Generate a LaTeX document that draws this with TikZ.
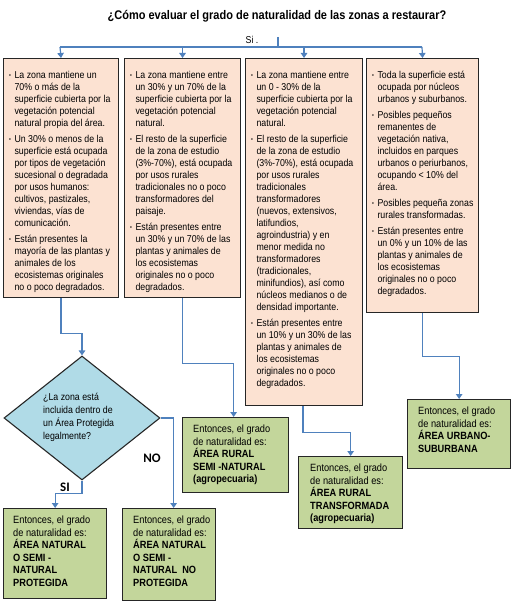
\documentclass[tikz,border=0pt]{standalone}
\usepackage{fontspec}
\setmainfont{Liberation Sans}
\newfontfamily\nfont{Liberation Sans}[FakeStretch=0.88]
\newfontfamily\calib{Carlito}
\usetikzlibrary{shapes.geometric,arrows.meta}
\definecolor{peach}{RGB}{252,226,210}
\definecolor{olive}{RGB}{195,214,155}
\definecolor{aqua}{RGB}{176,219,231}
\definecolor{connc}{RGB}{79,129,189}
\newcommand\bl{\raisebox{1pt}{\fontsize{6}{6}\selectfont\textbullet}}
\tikzset{
  pbox/.style={draw=black!85, line width=1.1pt, fill=peach, anchor=north west, inner sep=0pt},
  gbox/.style={draw=black!85, line width=1.3pt, fill=olive, anchor=north west, inner sep=0pt},
  btext/.style={anchor=north west, inner sep=0pt, font=\nfont\fontsize{10}{12}\selectfont},
  gtext/.style={anchor=north west, inner sep=0pt, align=left, font=\nfont\fontsize{10.5}{12.5}\selectfont},
  conn/.style={draw=connc, line width=1.2pt, -{Triangle[width=6.5pt,length=5pt]}},
  plain/.style={draw=connc, line width=1.2pt},
  lbl/.style={inner sep=0pt, font=\calib\bfseries\fontsize{13}{13}\selectfont}
}
\begin{document}
\begin{tikzpicture}[x=1pt,y=-1pt]
\useasboundingbox (0,0) rectangle (516,609);
% title
\node[inner sep=0pt, font=\nfont\bfseries\fontsize{12.5}{14}\selectfont] (title) at (277,16) {¿Cómo evaluar el grado de naturalidad de las zonas a restaurar?};
\node[inner sep=0pt, font=\nfont\fontsize{10}{12}\selectfont] (si0) at (252,40) {Si .};
% boxes
\node[pbox, minimum width=115pt, minimum height=239pt] (b1) at (3,58) {};
\node[pbox, minimum width=116pt, minimum height=239pt] (b2) at (124,58) {};
\node[pbox, minimum width=117pt, minimum height=347pt] (b3) at (245,58) {};
\node[pbox, minimum width=112pt, minimum height=254pt] (b4) at (366,58) {};
% top connectors
\coordinate (tick) at (278,37);
\coordinate (hl) at (60,47);
\coordinate (hr) at (422,47);
\draw[plain] (tick) -- (278,47);
\draw[plain] (hl) -- (hr);
\draw[conn] (hl) -- (b1.north);
\draw[conn] (b2.north |- hl) -- (b2.north);
\draw[conn] (b3.north |- hl) -- (b3.north);
\draw[conn] (hr) -- (b4.north);
% box texts
\node[btext] (t1) at (9,70) {\begin{tabular}{@{}l@{\hspace{3.5pt}}l@{}}
\bl & La zona mantiene un\\
 & 70\% o más de la\\
 & superficie cubierta por la\\
 & vegetación potencial\\
 & natural propia del área.\\[4pt]
\bl & Un 30\% o menos de la\\
 & superficie está ocupada\\
 & por tipos de vegetación\\
 & sucesional o degradada\\
 & por usos humanos:\\
 & cultivos, pastizales,\\
 & viviendas, vías de\\
 & comunicación.\\[4pt]
\bl & Están presentes la\\
 & mayoría de las plantas y\\
 & animales de los\\
 & ecosistemas originales\\
 & no o poco degradados.
\end{tabular}};
\node[btext] (t2) at (130,70) {\begin{tabular}{@{}l@{\hspace{3.5pt}}l@{}}
\bl & La zona mantiene entre\\
 & un 30\% y un 70\% de la\\
 & superficie cubierta por la\\
 & vegetación potencial\\
 & natural.\\[4pt]
\bl & El resto de la superficie\\
 & de la zona de estudio\\
 & (3\%-70\%), está ocupada\\
 & por usos rurales\\
 & tradicionales no o poco\\
 & transformadores del\\
 & paisaje.\\[4pt]
\bl & Están presentes entre\\
 & un 30\% y un 70\% de las\\
 & plantas y animales de\\
 & los ecosistemas\\
 & originales no o poco\\
 & degradados.
\end{tabular}};
\node[btext] (t3) at (251,70) {\begin{tabular}{@{}l@{\hspace{3.5pt}}l@{}}
\bl & La zona mantiene entre\\
 & un 0 - 30\% de la\\
 & superficie cubierta por la\\
 & vegetación potencial\\
 & natural.\\[4pt]
\bl & El resto de la superficie\\
 & de la zona de estudio\\
 & (3\%-70\%), está ocupada\\
 & por usos rurales\\
 & tradicionales\\
 & transformadores\\
 & (nuevos, extensivos,\\
 & latifundios,\\
 & agroindustria) y en\\
 & menor medida no\\
 & transformadores\\
 & (tradicionales,\\
 & minifundios), así como\\
 & núcleos medianos o de\\
 & densidad importante.\\[4pt]
\bl & Están presentes entre\\
 & un 10\% y un 30\% de las\\
 & plantas y animales de\\
 & los ecosistemas\\
 & originales no o poco\\
 & degradados.
\end{tabular}};
\node[btext] (t4) at (372,70) {\begin{tabular}{@{}l@{\hspace{3.5pt}}l@{}}
\bl & Toda la superficie está\\
 & ocupada por núcleos\\
 & urbanos y suburbanos.\\[4pt]
\bl & Posibles pequeños\\
 & remanentes de\\
 & vegetación nativa,\\
 & incluidos en parques\\
 & urbanos o periurbanos,\\
 & ocupando < 10\% del\\
 & área.\\[4pt]
\bl & Posibles pequeña zonas\\
 & rurales transformadas.\\[4pt]
\bl & Están presentes entre\\
 & un 0\% y un 10\% de las\\
 & plantas y animales de\\
 & los ecosistemas\\
 & originales no o poco\\
 & degradados.
\end{tabular}};
% diamond
\node[diamond, draw=black!85, line width=1.1pt, fill=aqua, minimum width=156pt, minimum height=124pt, inner sep=0pt] (dia) at (82,418) {};
\node[gtext, font=\nfont\fontsize{10}{13}\selectfont] (dtext) at (43,393) {¿La zona está\\incluida dentro de\\un Área Protegida\\legalmente?};
% green boxes
\node[gbox, minimum width=106pt, minimum height=75pt] (gA) at (182,417) {};
\node[gbox, minimum width=104pt, minimum height=72pt] (gB) at (298,456) {};
\node[gbox, minimum width=103pt, minimum height=69pt] (gC) at (407,399) {};
\node[gbox, minimum width=103pt, minimum height=90pt] (gSI) at (3,508) {};
\node[gbox, minimum width=93pt, minimum height=92pt] (gNO) at (122,508) {};
\node[gtext] (tA) at (193,425) {Entonces, el grado\\de naturalidad es:\\\textbf{ÁREA RURAL}\\\textbf{SEMI -NATURAL}\\\textbf{(agropecuaria)}};
\node[gtext] (tB) at (310,464) {Entonces, el grado\\de naturalidad es:\\\textbf{ÁREA RURAL}\\\textbf{TRANSFORMADA}\\\textbf{(agropecuaria)}};
\node[gtext] (tC) at (418,407) {Entonces, el grado\\de naturalidad es:\\\textbf{ÁREA URBANO-}\\\textbf{SUBURBANA}};
\node[gtext] (tSI) at (13,516) {Entonces, el grado\\de naturalidad es:\\\textbf{ÁREA NATURAL}\\\textbf{O SEMI -}\\\textbf{NATURAL}\\\textbf{PROTEGIDA}};
\node[gtext] (tNO) at (133,516) {Entonces, el grado\\de naturalidad es:\\\textbf{ÁREA NATURAL}\\\textbf{O SEMI -}\\\textbf{NATURAL\ \ NO}\\\textbf{PROTEGIDA}};
% connectors
\draw[conn] (b1.south) -- ++(0,35) -| (dia.north);
\draw[conn] (b2.south) -- ++(0,65) -| ([xshift=-2pt]gA.north);
\draw[conn] (b3.south -| 303,0) -- ++(0,26) -| (gB.north);
\draw[conn] (b4.south) -- ++(0,43) -| (gC.north);
\draw[conn] (dia.east) -- ++(13,0) -| ([xshift=4.5pt]gNO.north);
\draw[conn] (dia.south) -- ++(0,13) -| (gSI.north);
\node[lbl] (no) at (152,458) {NO};
\node[lbl] (si) at (65,487) {SI};
\end{tikzpicture}
\end{document}
